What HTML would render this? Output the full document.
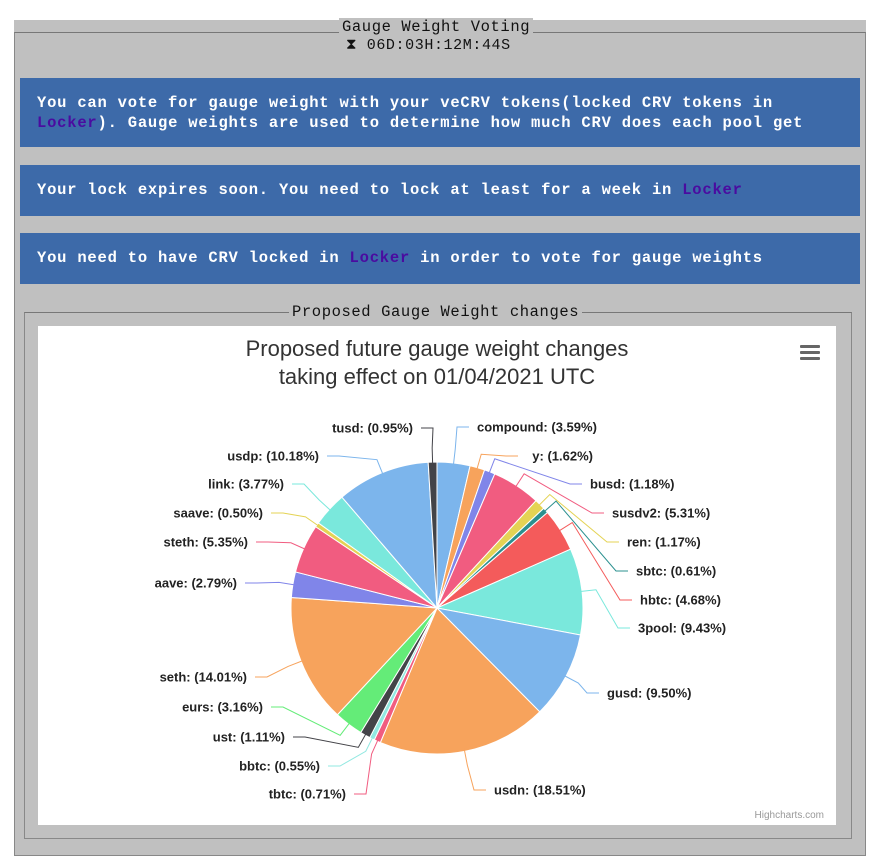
<!DOCTYPE html>
<html><head><meta charset="utf-8"><style>
body{margin:0;width:888px;height:863px;background:#fff;position:relative;overflow:hidden;font-family:"Liberation Mono",monospace}
.panel{position:absolute;left:14px;top:20px;width:852px;height:835px;background:#c0c0c0}
.fs{position:absolute;border:1px solid #888;border-top-color:#777}
.leg{position:absolute;background:#c0c0c0;color:#111;font-size:15.5px;letter-spacing:0.6px;padding:0 3px;white-space:nowrap}
.box{position:absolute;left:20px;width:840px;background:#3d6aa9;color:#fff;font-size:15.5px;letter-spacing:0.78px;line-height:20px;font-weight:bold;box-sizing:border-box;padding-left:17px;white-space:nowrap}
.lk{color:#4a0ca0}
.chart{position:absolute;left:38px;top:326px;width:798px;height:499px;background:#fff}
</style></head><body>
<div class="panel"></div>
<div class="fs" style="left:14px;top:32px;width:850px;height:822px"></div>
<div class="leg" style="left:339px;top:18px">Gauge Weight Voting</div>
<div style="position:absolute;left:346px;top:36px;font-size:15px;color:#111;letter-spacing:0.6px;white-space:nowrap">⧗ 06D:03H:12M:44S</div>
<div class="box" style="top:78px;height:69px;padding-top:15px">You can vote for gauge weight with your veCRV tokens(locked CRV tokens in<br><span class="lk">Locker</span>). Gauge weights are used to determine how much CRV does each pool get</div>
<div class="box" style="top:165px;height:51px;padding-top:15px">Your lock expires soon. You need to lock at least for a week in <span class="lk">Locker</span></div>
<div class="box" style="top:233px;height:51px;padding-top:15px">You need to have CRV locked in <span class="lk">Locker</span> in order to vote for gauge weights</div>
<div class="fs" style="left:24px;top:312px;width:826px;height:525px"></div>
<div class="leg" style="left:289px;top:303px">Proposed Gauge Weight changes</div>
<div class="chart"></div>
<svg id="s" width="888" height="863" style="position:absolute;left:0;top:0" font-family="Liberation Sans, sans-serif">
<text x="437" y="356" text-anchor="middle" font-size="22" fill="#333">Proposed future gauge weight changes</text>
<text x="437" y="384" text-anchor="middle" font-size="22" fill="#333">taking effect on 01/04/2021 UTC</text>
<g fill="#666"><rect x="800" y="345" width="20" height="3" rx="1"/><rect x="800" y="351" width="20" height="3" rx="1"/><rect x="800" y="357" width="20" height="3" rx="1"/></g>
<text x="824" y="818" text-anchor="end" font-size="10" fill="#999">Highcharts.com</text>
<g id="pie"></g>
</svg>
<script>
var d=[["compound",3.59,"#7cb5ec",477,427,1],["y",1.62,"#f7a35c",593,456,2],["busd",1.18,"#8085e9",590,484,1],["susdv2",5.31,"#f15c80",612,513,1],["ren",1.17,"#e4d354",627,542,1],["sbtc",0.61,"#2b908f",636,571,1],["hbtc",4.68,"#f45b5b",640,600,1],["3pool",9.43,"#7ae8dc",638,628,1],["gusd",9.50,"#7cb5ec",607,693,1],["usdn",18.51,"#f7a35c",494,790,1],["tbtc",0.71,"#f15c80",346,794,0],["bbtc",0.55,"#91e8e1",320,766,0],["ust",1.11,"#434348",285,737,0],["eurs",3.16,"#64ec78",263,707,0],["seth",14.01,"#f7a35c",247,677,0],["aave",2.79,"#8085e9",237,583,0],["steth",5.35,"#f15c80",248,542,0],["saave",0.50,"#e4d354",263,513,0],["link",3.77,"#7ae8dc",284,484,0],["usdp",10.18,"#7cb5ec",319,456,0],["tusd",0.95,"#434348",413,428,0]];
var tot=0;d.forEach(function(e){tot+=e[1]});
var cx=437,cy=608,r=146,a=-Math.PI/2,h="";
d.forEach(function(e){var s=e[1]/tot*2*Math.PI,b=a+s,m=a+s/2;
var x1=cx+r*Math.cos(a),y1=cy+r*Math.sin(a),x2=cx+r*Math.cos(b),y2=cy+r*Math.sin(b);
h+='<path d="M'+cx+','+cy+'L'+x1+','+y1+'A'+r+','+r+' 0 '+(s>Math.PI?1:0)+' 1 '+x2+','+y2+'Z" fill="'+e[2]+'" stroke="#fff" stroke-width="1"/>';
var ex=cx+(r-4)*Math.cos(m),ey=cy+(r-4)*Math.sin(m),ox=cx+(r+14)*Math.cos(m),oy=cy+(r+14)*Math.sin(m);
var right=e[5]!=0,lx;
if(right){lx=(e[5]==2?e[3]-75:e[3]-8);}else{lx=e[3]+8;}
var ly=e[4];var mx=right?lx-12:lx+12;
h+='<path d="M'+lx+','+ly+'L'+mx+','+ly+'L'+ox+','+oy+'L'+ex+','+ey+'" fill="none" stroke="'+e[2]+'" stroke-width="1"/>';
var t=e[0]+': ('+e[1].toFixed(2)+'%)';
h+='<text x="'+e[3]+'" y="'+(e[4]+4.5)+'" text-anchor="'+(right&&e[5]!=2?'start':'end')+'" font-size="13" font-weight="bold" fill="#222">'+t+'</text>';
a=b;});
document.getElementById("pie").innerHTML=h;
</script>
</body></html>
